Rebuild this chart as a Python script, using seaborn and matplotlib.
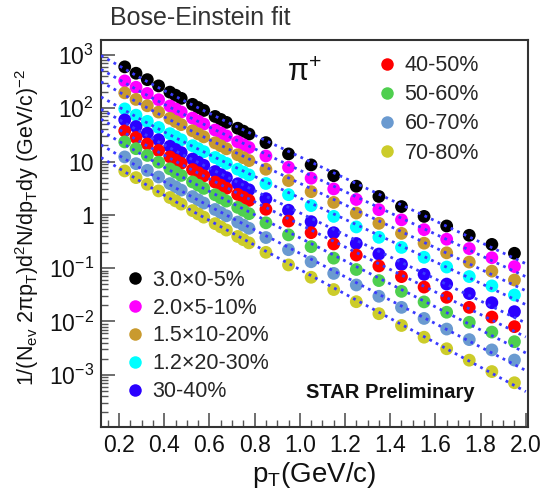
import numpy as np
import pandas as pd
import matplotlib
matplotlib.use("Agg")
import matplotlib.pyplot as plt
import seaborn as sns
from matplotlib.lines import Line2D
from matplotlib.ticker import FixedLocator, FixedFormatter, MultipleLocator, LogLocator, NullFormatter

# transverse-momentum bin centres (GeV/c)
pt = [0.225, 0.275, 0.325, 0.375, 0.425, 0.45, 0.475, 0.525, 0.55, 0.575,
      0.625, 0.65, 0.675, 0.725, 0.75, 0.775, 0.85, 0.95, 1.05, 1.15,
      1.25, 1.35, 1.45, 1.55, 1.65, 1.75, 1.85, 1.95]

# invariant yields as plotted (with the scale factors of the legend applied)
cent_0_5_x3 = [596, 452, 343, 262, 200, 175, 153, 118, 103, 90.7,
               70.0, 61.6, 54.2, 42.1, 37.1, 32.7, 22.6, 13.9, 8.64, 5.42,
               3.44, 2.21, 1.43, 0.935, 0.618, 0.413, 0.279, 0.190]
cent_5_10_x2 = [325, 247, 189, 144, 110, 96.7, 84.8, 65.3, 57.3, 50.4,
                39.0, 34.3, 30.2, 23.5, 20.7, 18.3, 12.7, 7.81, 4.86, 3.06,
                1.94, 1.25, 0.806, 0.528, 0.349, 0.233, 0.157, 0.107]
cent_10_20_x15 = [194, 146, 111, 84.5, 64.4, 56.3, 49.2, 37.7, 33.1, 29.0,
                  22.4, 19.7, 17.3, 13.4, 11.8, 10.4, 7.16, 4.39, 2.72, 1.71,
                  1.08, 0.693, 0.449, 0.294, 0.194, 0.130, 0.0879, 0.0600]
cent_20_30_x12 = [97.0, 74.0, 56.6, 43.4, 33.3, 29.2, 25.6, 19.8, 17.4, 15.3,
                  11.9, 10.4, 9.21, 7.17, 6.33, 5.60, 3.87, 2.39, 1.49, 0.935,
                  0.593, 0.379, 0.245, 0.160, 0.105, 0.0696, 0.0465, 0.0314]
cent_30_40 = [60.3, 45.2, 34.0, 25.6, 19.3, 16.8, 14.7, 11.1, 9.72, 8.49,
              6.49, 5.68, 4.98, 3.83, 3.36, 2.95, 2.01, 1.22, 0.745, 0.462,
              0.290, 0.184, 0.118, 0.0765, 0.0503, 0.0334, 0.0225, 0.0153]
cent_40_50 = [37.5, 28.2, 21.3, 16.1, 12.2, 10.6, 9.26, 7.05, 6.16, 5.38,
              4.11, 3.60, 3.15, 2.42, 2.13, 1.87, 1.27, 0.763, 0.463, 0.284,
              0.176, 0.110, 0.0694, 0.0442, 0.0284, 0.0184, 0.0121, 0.0080]
cent_50_60 = [23.3, 17.4, 13.0, 9.70, 7.28, 6.32, 5.48, 4.14, 3.60, 3.13,
              2.38, 2.07, 1.81, 1.38, 1.21, 1.05, 0.709, 0.421, 0.253, 0.154,
              0.0943, 0.0585, 0.0367, 0.0233, 0.0149, 0.00965, 0.00632, 0.00418]
cent_60_70 = [12.2, 9.12, 6.83, 5.13, 3.85, 3.35, 2.91, 2.20, 1.91, 1.66,
              1.26, 1.10, 0.960, 0.732, 0.640, 0.559, 0.375, 0.222, 0.132, 0.0797,
              0.0484, 0.0297, 0.0184, 0.0114, 0.00721, 0.00457, 0.00293, 0.00189]
cent_70_80 = [6.66, 4.99, 3.74, 2.81, 2.11, 1.83, 1.59, 1.20, 1.04, 0.904,
              0.684, 0.595, 0.518, 0.393, 0.342, 0.298, 0.198, 0.115, 0.0675, 0.0397,
              0.0235, 0.0140, 0.00841, 0.00507, 0.00308, 0.00188, 0.00115, 0.00071]

labels = ["3.0\u00d70-5%", "2.0\u00d75-10%", "1.5\u00d710-20%", "1.2\u00d720-30%",
          "30-40%", "40-50%", "50-60%", "60-70%", "70-80%"]
colors = ["#000000", "#ff00ff", "#c99a2e", "#00ffff", "#2a00ff",
          "#ff0000", "#4fcf4f", "#6a9ad0", "#cccc2a"]
series = [cent_0_5_x3, cent_5_10_x2, cent_10_20_x15, cent_20_30_x12, cent_30_40,
          cent_40_50, cent_50_60, cent_60_70, cent_70_80]

df = pd.concat([pd.DataFrame({"pt": pt, "yield": s, "cent": lab})
                for s, lab in zip(series, labels)], ignore_index=True)

# Bose-Einstein fit: A / (exp(mT/T) - 1), fitted in log space
m_pi = 0.13957
pt_arr = np.array(pt)
curve_pt = np.linspace(0.12, 2.0, 300)
fit_rows = []
for s, lab in zip(series, labels):
    logy = np.log10(s)
    mt = np.sqrt(pt_arr**2 + m_pi**2)
    best = None
    for T in np.arange(0.12, 0.35, 0.0005):
        shape = -np.log10(np.exp(mt / T) - 1.0)
        loga = np.mean(logy - shape)
        sse = np.sum((logy - shape - loga) ** 2)
        if best is None or sse < best[0]:
            best = (sse, T, loga)
    _, T, loga = best
    mtc = np.sqrt(curve_pt**2 + m_pi**2)
    fit_rows.append(pd.DataFrame({"pt": curve_pt,
                                  "yield": 10**loga / (np.exp(mtc / T) - 1.0),
                                  "cent": lab}))
fit_df = pd.concat(fit_rows, ignore_index=True)

sns.set_theme(style="white")
plt.rcParams["font.family"] = ["Liberation Sans", "DejaVu Sans"]
plt.rcParams["mathtext.fontset"] = "custom"
plt.rcParams["mathtext.rm"] = "Liberation Sans"
plt.rcParams["mathtext.it"] = "Liberation Sans:italic"
plt.rcParams["mathtext.default"] = "regular"

fig = plt.figure(figsize=(5.45, 5.0), dpi=100)
ax = fig.add_axes([101 / 545, 73 / 500, 427 / 545, 387 / 500])

palette = dict(zip(labels, colors))
sns.scatterplot(data=df, x="pt", y="yield", hue="cent", palette=palette,
                s=85, edgecolor="none", legend=False, ax=ax, zorder=2)
sns.lineplot(data=fit_df, x="pt", y="yield", units="cent", estimator=None,
             color="#3a3aff", lw=2.0, ax=ax, zorder=3,
             linestyle=(0, (1.0, 1.6)))

ax.set_yscale("log")
ax.set_xlim(0.12, 2.01)
ax.set_ylim(1.05e-4, 1.9e3)

ax.xaxis.set_minor_locator(MultipleLocator(0.05))
ax.set_xticks([0.2, 0.4, 0.6, 0.8, 1.0, 1.2, 1.4, 1.6, 1.8, 2.0])
ax.set_xticklabels(["0.2", "0.4", "0.6", "0.8", "1.0", "1.2", "1.4", "1.6", "1.8", "2.0"])
yt = [1e3, 1e2, 1e1, 1e0, 1e-1, 1e-2, 1e-3]
ax.yaxis.set_major_locator(FixedLocator(yt))
ax.yaxis.set_major_formatter(FixedFormatter(
    [r"$10^{3}$", r"$10^{2}$", "10", "1", r"$10^{-1}$", r"$10^{-2}$", r"$10^{-3}$"]))
ax.yaxis.set_minor_locator(LogLocator(base=10, subs=np.arange(2, 10), numticks=20))
ax.yaxis.set_minor_formatter(NullFormatter())

ax.tick_params(axis="both", which="major", direction="in", length=10, width=1.2,
               color="#555555", labelsize=16.5, labelcolor="#111111", pad=5,
               top=False, right=False, bottom=True, left=True)
ax.tick_params(axis="both", which="minor", direction="in", length=5, width=1.0,
               color="#555555", top=False, right=False, bottom=True, left=True)
for sp in ax.spines.values():
    sp.set_color("#333333")
    sp.set_linewidth(1.5)

ax.set_xlabel(r"p$_{T}$(GeV/c)", fontsize=20, color="#111111")
ax.set_ylabel(r"1/(N$_{ev}$ 2$\pi$p$_{T}$)d$^{2}$N/dp$_{T}$dy (GeV/c)$^{-2}$",
              fontsize=15.5, color="#111111")
ax.xaxis.set_label_coords(0.5, -0.085)
ax.yaxis.set_label_coords(-0.14, 0.515)

fig.text(110 / 545, 1 - 18 / 500, "Bose-Einstein fit", fontsize=18,
         color="#333333", ha="left", va="center")
ax.text(0.435, 0.915, r"$\pi^{+}$", transform=ax.transAxes, fontsize=22,
        ha="left", va="center", color="#111111")
ax.text(0.48, 0.09, "STAR Preliminary", transform=ax.transAxes, fontsize=14.5,
        fontweight="bold", ha="left", va="center", color="#111111")

def handles(idx):
    return [Line2D([], [], marker="o", linestyle="none", markersize=9,
                   markerfacecolor=colors[i], markeredgecolor="none",
                   label=labels[i]) for i in idx]

leg1 = ax.legend(handles=handles(range(5)), loc="lower left",
                 bbox_to_anchor=(0.015, 0.025), frameon=False, fontsize=15.5,
                 handletextpad=0.2, labelspacing=0.32, handlelength=1.2,
                 borderaxespad=0.3)
ax.add_artist(leg1)
ax.legend(handles=handles(range(5, 9)), loc="upper left",
          bbox_to_anchor=(0.605, 1.0), frameon=False, fontsize=15.5,
          handletextpad=0.2, labelspacing=0.38, handlelength=1.2,
          borderaxespad=0.3)

fig.savefig("out.png", dpi=100)
